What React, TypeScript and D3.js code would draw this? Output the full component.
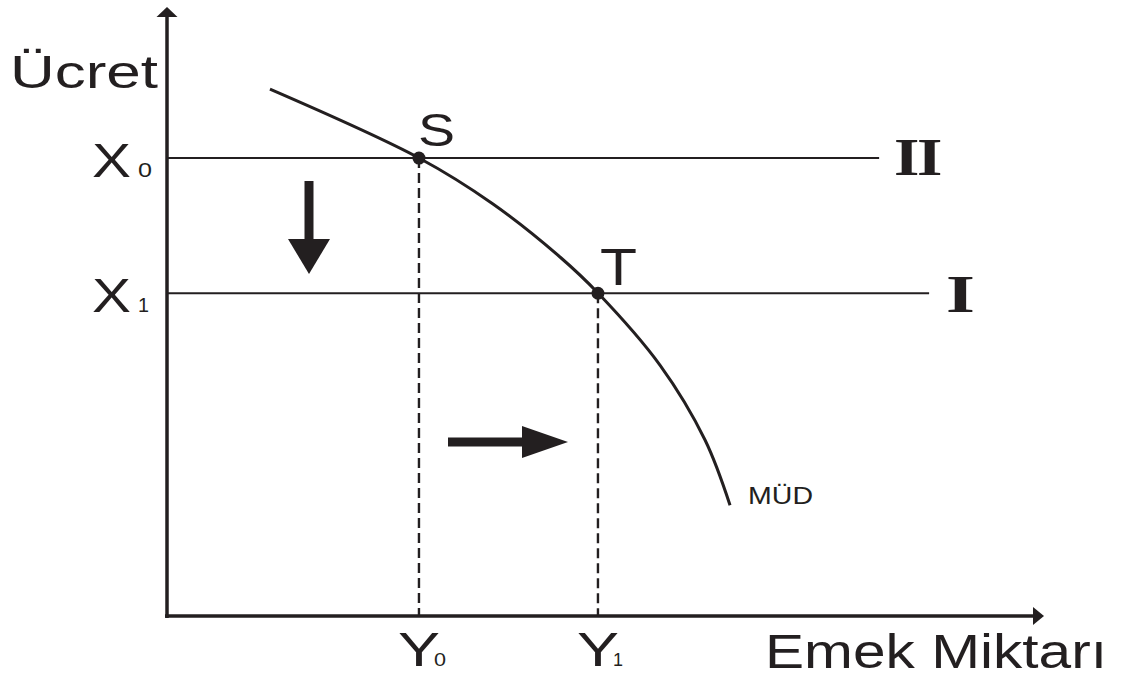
import React from "react";
import * as d3 from "d3";

// Data (units: quantity 0..100 along x, wage 0..100 along y)
const demandCurveQty = [11.74, 28.73, 37.17, 44.81, 49.14, 56.21, 61.35, 64.2];
const demandCurveWage = [86.5, 75.2, 67.65, 58.95, 53.04, 41.2, 28.9, 18.2];
const wageLevels = [75.2, 53.0]; // X0 (II), X1 (I)
const wageLineEnds = [81.2, 86.9];
const wageLabels = ["0", "1"];
const levelLabels = ["II", "I"];
const quantityLevels = [28.73, 49.14]; // Y0, Y1
const pointLabels = ["S", "T"];

const W = 1127;
const H = 679;
const ink = "#231f20";

export default function App() {
  const x = d3.scaleLinear().domain([0, 100]).range([167, 1044]);
  const y = d3.scaleLinear().domain([0, 100]).range([616, 7]);

  const curvePts: [number, number][] = demandCurveQty.map((q, i) => [q, demandCurveWage[i]]);
  const line = d3
    .line<[number, number]>()
    .x((d) => x(d[0]))
    .y((d) => y(d[1]))
    .curve(d3.curveCatmullRom.alpha(0.5));

  const x0 = x(0);
  const y0 = y(0);
  const font = "'Liberation Sans', Arial, sans-serif";

  return (
    <svg
      width={W}
      height={H}
      style={{ position: "absolute", left: 0, top: 0, background: "#fff" }}
    >
      <rect x={0} y={0} width={W} height={H} fill="#fff" />
      {/* axes */}
      <line x1={x0} y1={y0 + 2} x2={x0} y2={y(100) + 8} stroke={ink} strokeWidth={3.5} />
      <path
        d={`M${x0},${y(100)} L${x0 - 10.5},${y(100) + 10} L${x0 + 10.5},${y(100) + 10} Z`}
        fill={ink}
      />
      <line x1={x0 - 2} y1={y0} x2={x(100) - 8} y2={y0} stroke={ink} strokeWidth={3.5} />
      <path
        d={`M${x(100)},${y0} L${x(100) - 11},${y0 - 9} L${x(100) - 11},${y0 + 9} Z`}
        fill={ink}
      />

      {/* horizontal wage lines */}
      {wageLevels.map((w, i) => (
        <line
          key={"w" + i}
          x1={x0}
          y1={y(w)}
          x2={x(wageLineEnds[i])}
          y2={y(w)}
          stroke={ink}
          strokeWidth={2}
        />
      ))}

      {/* dashed vertical lines */}
      {quantityLevels.map((q, i) => (
        <line
          key={"q" + i}
          x1={x(q)}
          y1={y(wageLevels[i])}
          x2={x(q)}
          y2={y0}
          stroke={ink}
          strokeWidth={2.4}
          strokeDasharray="10,5"
        />
      ))}

      {/* demand curve */}
      <path d={line(curvePts) || ""} fill="none" stroke={ink} strokeWidth={3} />

      {/* points */}
      {quantityLevels.map((q, i) => (
        <circle key={"p" + i} cx={x(q)} cy={y(wageLevels[i])} r={6.5} fill={ink} />
      ))}

      {/* arrows */}
      <line x1={309} y1={181} x2={309} y2={240} stroke={ink} strokeWidth={9} />
      <path d="M288,239 L330,239 L309,274 Z" fill={ink} />
      <line x1={448} y1={442} x2={523} y2={442} stroke={ink} strokeWidth={9} />
      <path d="M522,426 L522,458 L568,442 Z" fill={ink} />

      {/* texts */}
      <g fill={ink} fontFamily={font}>
        <text x={10} y={88} fontSize={47} textLength={148} lengthAdjust="spacingAndGlyphs">
          Ücret
        </text>
        {wageLevels.map((w, i) => (
          <g key={"xl" + i}>
            <text x={92} y={y(w) + 19} fontSize={49} textLength={39} lengthAdjust="spacingAndGlyphs">
              X
            </text>
            <text x={138} y={y(w) + 19} fontSize={21} textLength={i === 0 ? 14 : 11} lengthAdjust="spacingAndGlyphs">
              {wageLabels[i]}
            </text>
          </g>
        ))}
        {quantityLevels.map((q, i) => (
          <g key={"yl" + i}>
            <text x={x(q) - 21} y={666} fontSize={49} textLength={42} lengthAdjust="spacingAndGlyphs">
              Y
            </text>
            <text x={x(q) + 15} y={666} fontSize={18} textLength={i === 0 ? 12 : 10} lengthAdjust="spacingAndGlyphs">
              {wageLabels[i]}
            </text>
          </g>
        ))}
        <text x={x(quantityLevels[0]) - 1} y={146} fontSize={46} textLength={37} lengthAdjust="spacingAndGlyphs">
          {pointLabels[0]}
        </text>
        <text x={x(quantityLevels[1]) + 2} y={285} fontSize={51} textLength={37} lengthAdjust="spacingAndGlyphs">
          {pointLabels[1]}
        </text>
        <text x={748} y={504} fontSize={23} textLength={65} lengthAdjust="spacingAndGlyphs">
          MÜD
        </text>
        <text x={765} y={668} fontSize={49} textLength={342} lengthAdjust="spacingAndGlyphs">
          Emek Miktarı
        </text>
      </g>
      <g fill={ink} fontFamily="'Liberation Serif', 'Times New Roman', serif" fontWeight="bold">
        <text
          transform={`translate(894,${y(wageLevels[0]) + 17}) scale(1.23,1)`}
          fontSize={53}
          letterSpacing={-2}
        >
          {levelLabels[0]}
        </text>
        <text
          transform={`translate(946,${y(wageLevels[1]) + 19}) scale(1.4,1)`}
          fontSize={53}
        >
          {levelLabels[1]}
        </text>
      </g>
    </svg>
  );
}
